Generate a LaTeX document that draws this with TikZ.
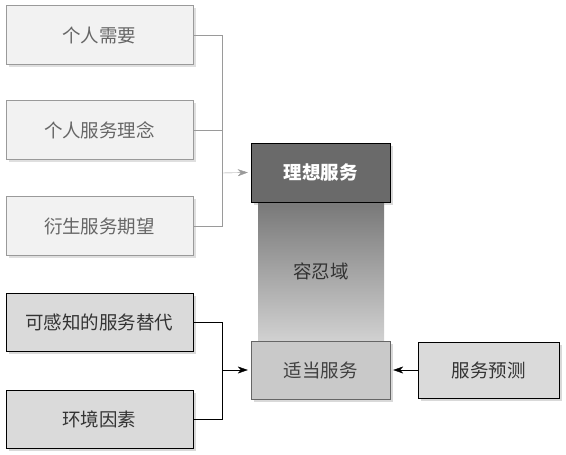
\documentclass[tikz,border=0pt]{standalone}
\usepackage{fontspec}
\usepackage{xcolor}
\usepackage{tikz}
\usetikzlibrary{arrows.meta,shadows}
\newfontfamily\cjk{Noto Sans CJK SC}
\definecolor{sgrayline}{HTML}{9A9A9A}
\definecolor{sgraytext}{HTML}{666666}
\definecolor{spale}{HTML}{F2F2F2}
\definecolor{smid}{HTML}{DADADA}
\definecolor{sdark}{HTML}{6A6A6A}
\definecolor{sadequate}{HTML}{C9C9C9}

\begin{document}
\begin{tikzpicture}[
    x=1pt, y=-1pt,
    every node/.style={font=\cjk\fontsize{18.5}{22}\selectfont},
    expect/.style={rectangle, draw=sgrayline, fill=spale, text=sgraytext, minimum width=187pt, minimum height=59pt, drop shadow={shadow xshift=2.5pt, shadow yshift=-2.5pt, opacity=0.25}},
    factor/.style={rectangle, draw=black, fill=smid, text=black!80, minimum width=187pt, minimum height=58pt, drop shadow={shadow xshift=2.5pt, shadow yshift=-2.5pt, opacity=0.3}},
    level/.style={rectangle, minimum width=139pt, minimum height=59pt, drop shadow={shadow xshift=2.5pt, shadow yshift=-2.5pt, opacity=0.3}},
    link/.style={draw=black, thin},
    glink/.style={draw=sgrayline, thin},
    flow/.style={-{Stealth[length=10pt, width=7pt, inset=3pt]}, thin, black},
    gflow/.style={-{Stealth[length=10pt, width=7pt, inset=3pt]}, thin, sgrayline}
]
    \useasboundingbox (0,0) rectangle (566,455);

    % Desired service expectations
    \node[expect] (need) at (99.5, 35) {个人需要};
    \node[expect] (concept) at (99.5, 130) {个人服务理念};
    \node[expect] (derived) at (99.5, 226) {衍生服务期望};

    % Zone of tolerance
    \node[rectangle, minimum width=126pt, minimum height=139pt, top color=black!53, bottom color=black!18, text=black!80] (zone) at (321, 271.5) {容忍域};

    % Service levels
    \node[level, draw=black, fill=sdark, text=white, font=\cjk\bfseries\fontsize{18.5}{22}\selectfont] (ideal) at (320.5, 172.5) {理想服务};
    \node[level, draw=black!60, fill=sadequate, text=black!75, minimum height=58pt] (adequate) at (320.5, 370) {适当服务};

    % Adequate service factors
    \node[factor] (alt) at (99.5, 322) {可感知的服务替代};
    \node[factor] (env) at (99.5, 419) {环境因素};
    \node[factor, minimum width=141pt, minimum height=56pt] (predict) at (488.5, 370) {服务预测};

    % Junctions
    \coordinate (jtop) at (222, 173);
    \coordinate (jbot) at (222, 370);

    % Flows to ideal service
    \draw[glink] (need.east) -| (jtop);
    \draw[glink] (concept.east) -| (jtop);
    \draw[glink] (derived.east) -| (jtop);
    \draw[gflow] (jtop) -- ([xshift=-3pt]ideal.west);

    % Flows to adequate service
    \draw[link] (alt.east) -| (jbot);
    \draw[link] (env.east) -| (jbot);
    \draw[flow] (jbot) -- ([xshift=-3pt]adequate.west);
    \draw[flow] (predict.west) -- ([xshift=3pt]adequate.east);

\end{tikzpicture}
\end{document}
